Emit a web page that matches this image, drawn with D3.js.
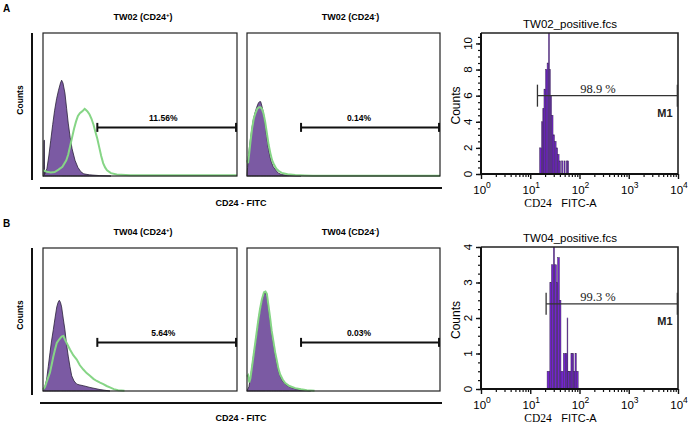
<!DOCTYPE html>
<html>
<head>
<meta charset="utf-8">
<script src="https://cdn.jsdelivr.net/npm/d3@7"></script>
<style>
body{margin:0;background:#fff;}
svg{display:block;}
</style>
</head>
<body>
<svg id="chart" width="689" height="429"></svg>
<script>
'use strict';

// ---- data ----
const rowLabels = ['A', 'B'];
const sampleNames = ['TW02', 'TW04'];
const leftSigns = ['+', '-'];
const gatePercents = [['11.56%', '0.14%'], ['5.64%', '0.03%']];
const gateRange = [28, 99.5];   // marker, in relative channel units
const gateLevel = 34;           // marker height, % of max count

// left overlays: [channel, relative count]
const a1Purple = [[0,0],[0.4,0],[0.5,25],[0.7,25],[0.8,1],[2,5],[3,14],[4,25],[5,36],[6,46],[7,54],[8,60],[9,65],[9.6,67],[10.3,65],[11.3,58],[12.2,47],[13,37],[14,27],[15,19],[16.5,11],[18,6],[19.5,3],[21,1.5],[24,0.8],[29,0.3],[35,0]];
const a1Green = [[0,4],[2,3],[4,2.5],[6,2.8],[8,4.5],[10,6.5],[12,11],[13,15],[14,21],[15,27],[16,33],[17,38],[18,42],[19,44],[20,45],[20.8,46],[21.5,47],[22.3,46],[23,45],[24,43],[25,40],[26,36],[27,31],[28,26],[29,20],[30,14],[31,9],[32,6],[33,4],[35,2],[38,1],[45,0.6],[100,0.5]];
const a2Purple = [[0,0],[0.3,6],[0.7,13.5],[1.5,23],[2.4,32],[3.2,39],[4.1,44],[5,48],[5.9,51],[6.5,52],[7.1,52],[7.7,49],[8.4,45],[9.3,37],[10.2,27.5],[11,20],[11.9,13.5],[12.7,9.5],[13.6,6.5],[15,4],[16.2,2],[18,1],[22,0.4],[28,0]];
const a2Green = [[0,11],[0.5,9],[1,14],[1.8,24],[2.6,33],[3.5,40],[4.4,44],[5.3,47],[6.2,48],[7,48],[7.7,47],[8.5,44],[9.4,38],[10.3,30],[11.2,22],[12.1,16],[13,11],[14,8],[15.2,5],[16.5,3.5],[18,2.2],[21,1.2],[25,0.7],[30,0.4],[34,0.2],[100,0.2]];
const b1Purple = [[0,0],[0.8,2],[1.9,8.3],[2.7,17],[3.6,26.7],[4.4,35],[5.3,42.8],[6.2,51],[7.1,58.8],[7.8,62],[8.4,63.4],[9,62],[9.6,58.8],[10.4,51],[11.3,42.8],[12.1,33],[13,24.4],[13.9,17],[14.8,10.6],[16,7],[17.4,4.8],[19,4.2],[20.8,3.7],[24.2,2.5],[29.4,1],[34.5,0]];
const b1Green = [[0,1],[1,2.7],[2.3,8],[3.6,13],[4.4,18],[5.3,24],[6.2,29],[7.1,33.6],[8.3,36],[9.6,38],[10.5,38.5],[11.3,36],[12.2,33.6],[13.9,29],[15.6,25],[17.4,22],[19,18],[20.8,15],[22.5,12.5],[24.2,10.6],[26,8.5],[27.7,7],[29.4,5.8],[31.1,4.8],[32.8,3.5],[34.5,2.5],[36.5,1.3],[38.7,0.5],[42,0.2]];
const b2Purple = [[0,0],[1,3],[1.6,8],[2.5,16],[3.3,24],[4.2,32],[5,40],[5.8,48],[6.7,56.6],[7.7,63],[8.8,68],[9.5,68.5],[10.2,67],[11,59],[11.9,49.7],[12.7,41],[13.6,33.6],[14.5,26],[15.4,19.8],[16.2,14.5],[17.1,10.6],[18.4,7],[19.7,4.8],[22,2.8],[24.9,1.5],[28,0.6],[31,0.3],[33,0]];
const b2Green = [[0,10],[0.6,11],[1.2,6],[1.8,9],[2.6,17],[3.4,25],[4.2,33],[5,41],[5.8,49],[6.7,57],[7.7,64],[8.8,69],[9.6,69.5],[10.3,68],[11.1,60],[12,51],[12.8,42],[13.7,34.5],[14.6,27],[15.5,21],[16.3,15.5],[17.2,11.5],[18.5,8],[19.8,5.5],[22,3.5],[25,2],[28,1.2],[31,0.6],[35,0.2]];

// right histograms: bin edges (FITC-A) and counts
const tw02Edges = [15.5,17,18,19,20.5,22,23.5,24.5,25.5,27,29,31,33.5,36,38.5,41,43.5,46,48.5,51,54,57,60];
const tw02Counts = [2,4,5,6.5,8,8.5,12,8,6,4.5,3,2.5,2,1.5,1,0,1,0,1,0,1,1];
const tw04Edges = [22,25,27,29.5,31,34,36,39,42,47,52,56,58,63,67,71,76,81,86,94];
const tw04Counts = [0.5,3,3.5,4.5,3.5,3,3.7,2.5,0.5,1,1,2,0.5,0.5,1,1,0.5,1,0.5];
const rightMax = [10.8, 4];
const rightMajor = [[0,2,4,6,8,10],[0,1,2,3,4]];
const rightMinorStep = [0.5, 0.25];
const rightGates = [[14, 9700, 6], [21, 9700, 2.4]];   // from, to, level
const rightPercents = ['98.9 %', '99.3 %'];
const decades = [0, 1, 2, 3, 4];

// ---- styles ----
const sans = 'Liberation Sans, Arial, sans-serif';
const narrow = 'Liberation Sans Narrow, Arial Narrow, Liberation Sans, sans-serif';
const serif = 'Liberation Serif, Times New Roman, serif';
const leftPurple = '#7b5aa3';
const greenLine = '#86d586';
const rightPurple = '#7323cf';

const svg = d3.select('#chart');
const rowOffset = [0, 215];
const leftCols = [{x0: 43, x1: 237}, {x0: 247, x1: 440}];
const overlays = [[[a1Purple, a1Green], [a2Purple, a2Green]], [[b1Purple, b1Green], [b2Purple, b2Green]]];
const hists = [[tw02Edges, tw02Counts], [tw04Edges, tw04Counts]];

rowLabels.forEach((lab, r) => {
	const off = rowOffset[r];
	const g = svg.append('g');

	g.append('text').attr('x', 3).attr('y', 12 + off)
		.attr('font-family', sans).attr('font-weight', 'bold').attr('font-size', 10).text(lab);

	// ---- left pair of overlays ----
	g.append('line').attr('x1', 32).attr('x2', 32).attr('y1', 33 + off).attr('y2', 180 + off)
		.attr('stroke', '#111').attr('stroke-width', 2);
	g.append('line').attr('x1', 40).attr('x2', 442).attr('y1', 188 + off).attr('y2', 188 + off)
		.attr('stroke', '#111').attr('stroke-width', 2);
	g.append('text').attr('transform', `translate(23,${100 + off}) rotate(-90)`)
		.attr('text-anchor', 'middle').attr('font-family', sans).attr('font-weight', 'bold')
		.attr('font-size', 8.5).text('Counts');
	g.append('text').attr('x', 241).attr('y', 206 + off).attr('text-anchor', 'middle')
		.attr('font-family', sans).attr('font-weight', 'bold').attr('font-size', 9).text('CD24 - FITC');

	leftCols.forEach((col, c) => {
		const y0 = 33 + off, y1 = 176 + off;
		const x = d3.scaleLinear().domain([0, 100]).range([col.x0, col.x1]);
		const y = d3.scaleLinear().domain([0, 100]).range([y1, y0]);
		const [purple, green] = overlays[r][c];

		const t = g.append('text').attr('x', (col.x0 + col.x1) / 2 + (c ? 7 : 3)).attr('y', 20 + off)
			.attr('text-anchor', 'middle').attr('font-family', sans).attr('font-weight', 'bold').attr('font-size', 9);
		t.append('tspan').text(sampleNames[r] + ' (CD24');
		t.append('tspan').attr('font-size', 6).attr('dy', -3.5).text(leftSigns[c]);
		t.append('tspan').attr('dy', 3.5).text(')');

		g.append('path').datum(purple)
			.attr('d', d3.area().x(d => x(d[0])).y0(y(0)).y1(d => y(d[1])))
			.attr('fill', leftPurple).attr('stroke', '#2a2238').attr('stroke-width', 0.8);
		g.append('path').datum(green)
			.attr('d', d3.line().x(d => x(d[0])).y(d => y(d[1])))
			.attr('fill', 'none').attr('stroke', greenLine).attr('stroke-width', 2);

		g.append('rect').attr('x', col.x0).attr('y', y0).attr('width', col.x1 - col.x0).attr('height', y1 - y0)
			.attr('fill', 'none').attr('stroke', '#222').attr('stroke-width', 1.2);

		// marker
		const gy = y(gateLevel);
		const gm = g.append('g').attr('stroke', '#111').attr('stroke-width', 2);
		gm.append('line').attr('x1', x(gateRange[0])).attr('x2', x(gateRange[1])).attr('y1', gy).attr('y2', gy);
		gateRange.forEach(v => gm.append('line').attr('x1', x(v)).attr('x2', x(v)).attr('y1', gy - 4.5).attr('y2', gy + 4.5));
		g.append('text').attr('x', x(c ? 58 : 62)).attr('y', gy - 6).attr('text-anchor', 'middle')
			.attr('font-family', sans).attr('font-weight', 'bold').attr('font-size', 8.5).text(gatePercents[r][c]);
	});

	// ---- right histogram ----
	const rx0 = 481, rx1 = 678, ry0 = 33 + off - (r ? 1 : 0), ry1 = 174 + off;
	const x = d3.scaleLog().domain([1, 1e4]).range([rx0, rx1]);
	const y = d3.scaleLinear().domain([0, rightMax[r]]).range([ry1, ry0]);
	const [edges, counts] = hists[r];

	g.append('clipPath').attr('id', 'clip' + r).append('rect')
		.attr('x', rx0).attr('y', ry0).attr('width', rx1 - rx0).attr('height', ry1 - ry0);
	g.append('g').attr('clip-path', `url(#clip${r})`).selectAll('rect')
		.data(counts).join('rect')
		.attr('x', (d, i) => x(edges[i]))
		.attr('width', (d, i) => x(edges[i + 1]) - x(edges[i]))
		.attr('y', d => y(d))
		.attr('height', d => y(0) - y(d))
		.attr('fill', rightPurple).attr('stroke', '#3d2a55').attr('stroke-width', 0.5);

	// frame
	g.append('path').attr('d', `M${rx0},${ry0}H${rx1}V${ry1}`)
		.attr('fill', 'none').attr('stroke', '#222').attr('stroke-width', 1.6);

	// y axis
	const minors = d3.range(0, rightMax[r] + 1e-6, rightMinorStep[r]);
	g.append('g').attr('transform', `translate(${rx0},0)`)
		.call(d3.axisLeft(y).tickValues(minors).tickSize(3).tickFormat(''))
		.call(a => a.select('.domain').remove())
		.call(a => a.selectAll('line').attr('stroke', '#111').attr('stroke-width', 1.2));
	g.append('g').attr('transform', `translate(${rx0},0)`)
		.call(d3.axisLeft(y).tickValues(rightMajor[r]).tickSize(5).tickFormat(''))
		.call(a => a.select('.domain').remove())
		.call(a => a.selectAll('line').attr('stroke', '#111').attr('stroke-width', 1.4));
	rightMajor[r].forEach(v => {
		g.append('text').attr('transform', `translate(${rx0 - 9},${y(v)}) rotate(-90)`)
			.attr('text-anchor', 'middle').attr('font-family', narrow).attr('font-size', 11.5).text(v);
	});
	g.append('text').attr('transform', `translate(${rx0 - 21},${(ry0 + ry1) / 2 + 2}) rotate(-90)`)
		.attr('text-anchor', 'middle').attr('font-family', narrow).attr('font-size', 12).text('Counts');

	// x axis
	const logMinor = [];
	decades.slice(0, -1).forEach(d => d3.range(2, 10).forEach(m => logMinor.push(m * Math.pow(10, d))));
	g.append('g').attr('transform', `translate(0,${ry1})`)
		.call(d3.axisBottom(x).tickValues(logMinor).tickSize(3).tickFormat(''))
		.call(a => a.select('.domain').remove())
		.call(a => a.selectAll('line').attr('stroke', '#111').attr('stroke-width', 1.2));
	g.append('g').attr('transform', `translate(0,${ry1})`)
		.call(d3.axisBottom(x).tickValues(decades.map(d => Math.pow(10, d))).tickSize(5).tickFormat(''))
		.call(a => a.select('.domain').remove())
		.call(a => a.selectAll('line').attr('stroke', '#111').attr('stroke-width', 1.4));
	decades.forEach(d => {
		const t = g.append('text').attr('x', x(Math.pow(10, d)) + 1).attr('y', ry1 + 20)
			.attr('text-anchor', 'middle').attr('font-family', narrow).attr('font-size', 11.5);
		t.append('tspan').text('10');
		t.append('tspan').attr('font-size', 8.5).attr('dy', -6).text(d);
	});
	g.append('line').attr('x1', rx0).attr('x2', rx0).attr('y1', ry0).attr('y2', ry1 + 1)
		.attr('stroke', '#111').attr('stroke-width', 2);
	g.append('line').attr('x1', rx0 - 1).attr('x2', rx1).attr('y1', ry1).attr('y2', ry1)
		.attr('stroke', '#111').attr('stroke-width', 2);

	g.append('text').attr('x', 538).attr('y', ry1 + 33).attr('text-anchor', 'middle')
		.attr('font-family', serif).attr('font-size', 11.5).text('CD24');
	g.append('text').attr('x', 579).attr('y', ry1 + 33).attr('text-anchor', 'middle')
		.attr('font-family', narrow).attr('font-size', 11).text('FITC-A');
	g.append('text').attr('x', 570).attr('y', ry0 - 5).attr('text-anchor', 'middle')
		.attr('font-family', narrow).attr('font-size', 11.5).text(sampleNames[r] + '_positive.fcs');

	// M1 marker
	const [gFrom, gTo, gLev] = rightGates[r];
	const gy = y(gLev);
	const rm = g.append('g').attr('stroke', '#333').attr('stroke-width', 1.3);
	rm.append('line').attr('x1', x(gFrom)).attr('x2', x(gTo)).attr('y1', gy).attr('y2', gy);
	[gFrom, gTo].forEach(v => rm.append('line').attr('x1', x(v)).attr('x2', x(v)).attr('y1', gy - 11).attr('y2', gy + 11));
	g.append('text').attr('x', 598).attr('y', gy - 3).attr('text-anchor', 'middle')
		.attr('font-family', serif).attr('font-size', 12.5).attr('fill', '#222').text(rightPercents[r]);
	g.append('text').attr('x', 665).attr('y', gy + 21).attr('text-anchor', 'middle')
		.attr('font-family', narrow).attr('font-weight', 'bold').attr('font-size', 11).attr('fill', '#222').text('M1');
});
</script>
</body>
</html>
